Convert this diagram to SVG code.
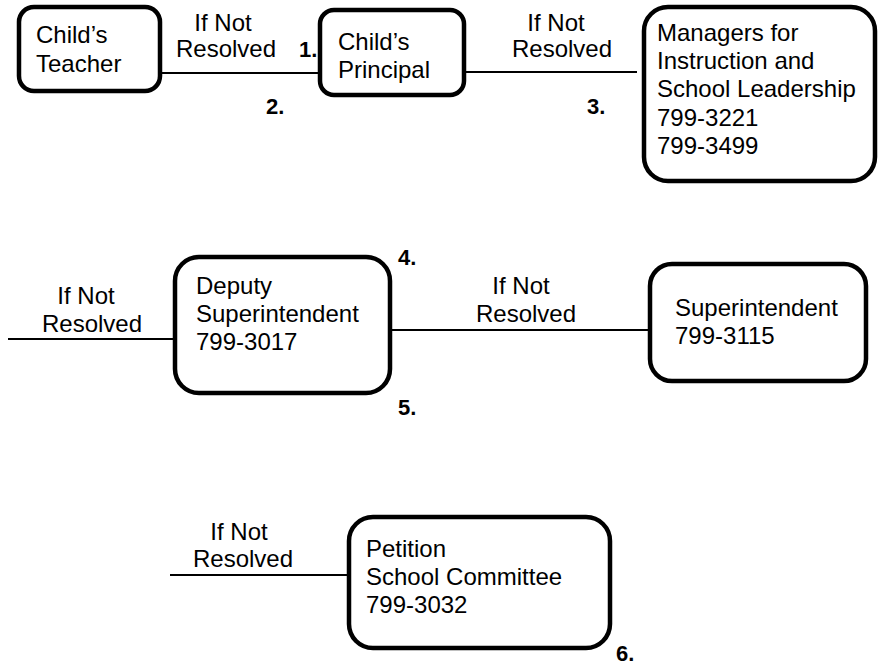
<svg xmlns="http://www.w3.org/2000/svg" width="878" height="666" viewBox="0 0 878 666">
<style>
.box{fill:#fff;stroke:#000;stroke-width:4.5}
.ln{stroke:#000;stroke-width:2;fill:none}
text{font-family:"Liberation Sans",Arial,sans-serif;font-size:24px;fill:#000}
.lbl{text-anchor:middle}
.num{font-weight:bold;font-size:22px}
</style>
<rect width="878" height="666" fill="#fff"/>
<g id="connectors">
<line class="ln" x1="162" y1="73" x2="319" y2="73"/>
<line class="ln" x1="466" y1="72" x2="637" y2="72"/>
<line class="ln" x1="8" y1="339" x2="174" y2="339"/>
<line class="ln" x1="392" y1="330" x2="649" y2="330"/>
<line class="ln" x1="170" y1="575" x2="348" y2="575"/>
<text class="lbl" x="223" y="31">If Not</text>
<text class="lbl" x="226" y="57">Resolved</text>
<text class="lbl" x="556" y="31">If Not</text>
<text class="lbl" x="562" y="57">Resolved</text>
<text class="lbl" x="86" y="304">If Not</text>
<text class="lbl" x="92" y="332">Resolved</text>
<text class="lbl" x="521" y="294">If Not</text>
<text class="lbl" x="526" y="322">Resolved</text>
<text class="lbl" x="239" y="540">If Not</text>
<text class="lbl" x="243" y="567">Resolved</text>
<text class="num" x="299" y="57">1.</text>
<text class="num" x="266" y="114">2.</text>
<text class="num" x="587" y="114">3.</text>
<text class="num" x="398" y="265">4.</text>
<text class="num" x="398" y="415">5.</text>
<text class="num" x="616" y="661">6.</text>
</g>
<g id="teacher">
<rect class="box" x="19" y="7" width="141" height="84" rx="15"/>
<text x="36" y="43">Child’s</text>
<text x="36" y="72">Teacher</text>
</g>
<g id="principal">
<rect class="box" x="320" y="10" width="144" height="85" rx="14"/>
<text x="338" y="50">Child’s</text>
<text x="338" y="78">Principal</text>
</g>
<g id="managers">
<rect class="box" x="644" y="7" width="231" height="174" rx="24"/>
<text x="657" y="41">Managers for</text>
<text x="657" y="69">Instruction and</text>
<text x="657" y="97">School Leadership</text>
<text x="657" y="126">799-3221</text>
<text x="657" y="154">799-3499</text>
</g>
<g id="deputy">
<rect class="box" x="175" y="257" width="215" height="136" rx="24"/>
<text x="196" y="294">Deputy</text>
<text x="196" y="322">Superintendent</text>
<text x="196" y="350">799-3017</text>
</g>
<g id="superintendent">
<rect class="box" x="650" y="264" width="216" height="117" rx="22"/>
<text x="675" y="316">Superintendent</text>
<text x="675" y="344">799-3115</text>
</g>
<g id="committee">
<rect class="box" x="349" y="517" width="261" height="131" rx="24"/>
<text x="366" y="557">Petition</text>
<text x="366" y="585">School Committee</text>
<text x="366" y="613">799-3032</text>
</g>
</svg>
